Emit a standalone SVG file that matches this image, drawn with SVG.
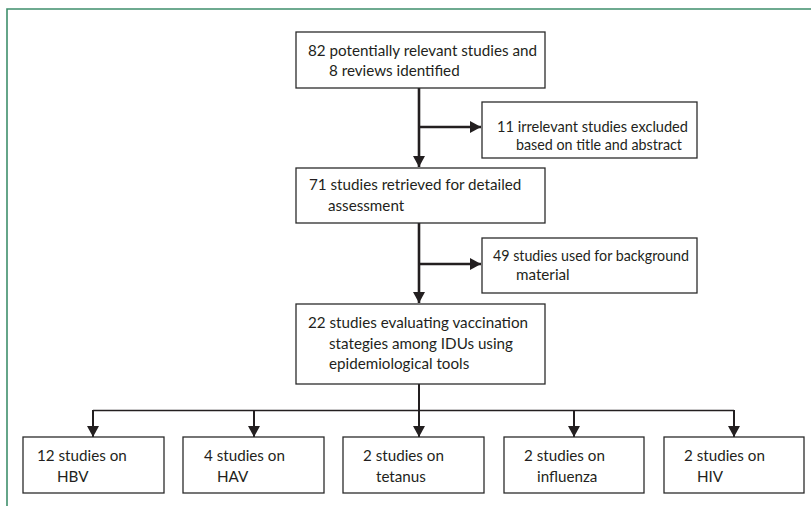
<svg xmlns="http://www.w3.org/2000/svg" width="811" height="506" viewBox="0 0 811 506">
  <defs>
    <style>
      .frame { fill: none; stroke: #3f8f6c; stroke-width: 1.6; }
      .box { fill: #ffffff; stroke: #2b2b2b; stroke-width: 1.3; }
      .lbl { font-family: Lato, "Open Sans", "Liberation Sans", sans-serif; font-size: 15.2px; fill: #231f20; }
      .conn { fill: none; stroke: #231f20; stroke-width: 2.6; }
      .conn2 { fill: none; stroke: #231f20; stroke-width: 2; }
      .conn3 { fill: none; stroke: #231f20; stroke-width: 1.5; }
    </style>
    <marker id="arr" markerUnits="userSpaceOnUse" markerWidth="12" markerHeight="12" refX="11" refY="6" orient="auto" viewBox="0 0 12 12">
      <path d="M0,0 L11,6 L0,12 Z" fill="#231f20"/>
    </marker>
  </defs>

  <rect width="811" height="506" fill="#ffffff"/>
  <path class="frame" d="M7,506 L7,9 L811,9"/>

  <g id="connectors">
    <path class="conn" d="M419,88 L419,167" marker-end="url(#arr)"/>
    <path class="conn" d="M419,127 L481,127" marker-end="url(#arr)"/>
    <path class="conn" d="M419,223 L419,303" marker-end="url(#arr)"/>
    <path class="conn" d="M419,264 L481,264" marker-end="url(#arr)"/>
    <path class="conn2" d="M419,384 L419,437" marker-end="url(#arr)"/>
    <path class="conn3" d="M93,410.5 L734,410.5"/>
    <path class="conn2" d="M93,410 L93,437" marker-end="url(#arr)"/>
    <path class="conn2" d="M254,410 L254,437" marker-end="url(#arr)"/>
    <path class="conn2" d="M574,410 L574,437" marker-end="url(#arr)"/>
    <path class="conn2" d="M734,410 L734,437" marker-end="url(#arr)"/>
  </g>

  <g id="identified">
    <rect class="box" x="296" y="32" width="249" height="56"/>
    <text class="lbl" x="308" y="56">82 potentially relevant studies and</text>
    <text class="lbl" x="329" y="76">8 reviews identified</text>
  </g>

  <g id="excluded">
    <rect class="box" x="482" y="102" width="215" height="56"/>
    <text class="lbl" x="497" y="132" textLength="191" lengthAdjust="spacingAndGlyphs">11 irrelevant studies excluded</text>
    <text class="lbl" x="516" y="150" textLength="166" lengthAdjust="spacingAndGlyphs">based on title and abstract</text>
  </g>

  <g id="retrieved">
    <rect class="box" x="296" y="168" width="249" height="55"/>
    <text class="lbl" x="309" y="190">71 studies retrieved for detailed</text>
    <text class="lbl" x="328" y="211">assessment</text>
  </g>

  <g id="background">
    <rect class="box" x="482" y="238" width="215" height="55"/>
    <text class="lbl" x="493" y="261" textLength="196" lengthAdjust="spacingAndGlyphs">49 studies used for background</text>
    <text class="lbl" x="516" y="280">material</text>
  </g>

  <g id="evaluating">
    <rect class="box" x="296" y="304" width="249" height="80"/>
    <text class="lbl" x="308" y="328">22 studies evaluating vaccination</text>
    <text class="lbl" x="329" y="349">stategies among IDUs using</text>
    <text class="lbl" x="329" y="369">epidemiological tools</text>
  </g>

  <g id="hbv">
    <rect class="box" x="23" y="437" width="141" height="56"/>
    <text class="lbl" x="37" y="461">12 studies on</text>
    <text class="lbl" x="57" y="482">HBV</text>
  </g>

  <g id="hav">
    <rect class="box" x="183" y="437" width="141" height="56"/>
    <text class="lbl" x="204" y="461">4 studies on</text>
    <text class="lbl" x="217" y="482">HAV</text>
  </g>

  <g id="tetanus">
    <rect class="box" x="343" y="437" width="141" height="56"/>
    <text class="lbl" x="363" y="461">2 studies on</text>
    <text class="lbl" x="376" y="482">tetanus</text>
  </g>

  <g id="influenza">
    <rect class="box" x="504" y="437" width="140" height="56"/>
    <text class="lbl" x="524" y="461">2 studies on</text>
    <text class="lbl" x="537" y="482">influenza</text>
  </g>

  <g id="hiv">
    <rect class="box" x="664" y="437" width="140" height="56"/>
    <text class="lbl" x="684" y="461">2 studies on</text>
    <text class="lbl" x="697" y="482">HIV</text>
  </g>
</svg>
